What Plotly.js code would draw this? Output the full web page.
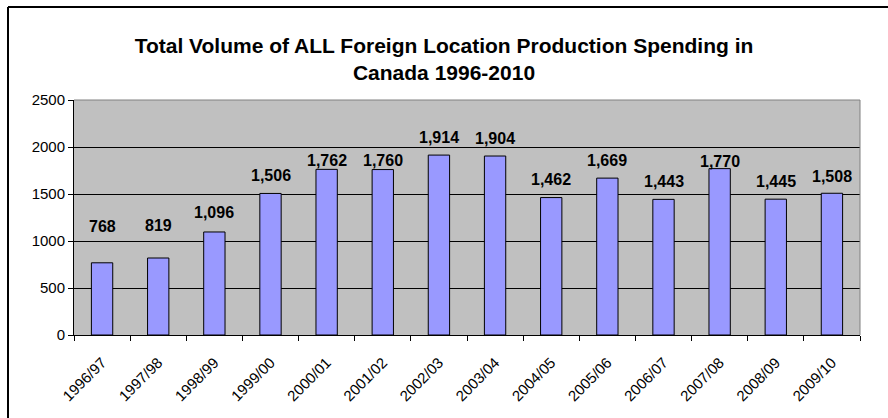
<!DOCTYPE html>
<html>
<head>
<meta charset="utf-8">
<script src="https://cdn.plot.ly/plotly-3.0.1.min.js"></script>
<style>
  html, body { margin: 0; padding: 0; background: #ffffff; }
  #chart { width: 888px; height: 418px; }
</style>
</head>
<body>
<div id="chart"></div>
<script>
// ---- Data ----
const seasons = ["1996/97", "1997/98", "1998/99", "1999/00", "2000/01", "2001/02", "2002/03",
                 "2003/04", "2004/05", "2005/06", "2006/07", "2007/08", "2008/09", "2009/10"];
const spending = [768, 819, 1096, 1506, 1762, 1760, 1914, 1904, 1462, 1669, 1443, 1770, 1445, 1508];
const yTicks = [0, 500, 1000, 1500, 2000, 2500];

// ---- Label placement (pixel lift above bar top, styling only) ----
const labelLift = [36, 33, 19, 18, 9, 9, 18, 18, 18, 18, 18, 7, 18, 17];

const FONT = "Arial, 'Liberation Sans', sans-serif";

const trace = {
  type: "bar",
  x: seasons,
  y: spending,
  marker: { color: "#9999ff", line: { color: "#000000", width: 1 } },
  hoverinfo: "x+y"
};

const annotations = seasons.map((s, i) => ({
  x: s,
  y: spending[i],
  xref: "x",
  yref: "y",
  text: spending[i].toLocaleString("en-US"),
  showarrow: false,
  yanchor: "middle",
  xanchor: "center",
  yshift: labelLift[i],
  font: { family: FONT, size: 16, color: "#000000", weight: "bold" }
}));

const L = 74, R = 28, T = 100, B = 83, W = 888, H = 418;
const pw = W - L - R, ph = H - T - B;
const px2x = (px) => (px - L) / pw;
const py2y = (py) => (H - B - py) / ph;

const shapes = [
  // plot area border (top & right, gray)
  { type: "line", xref: "paper", yref: "paper", x0: 0, x1: 1, y0: 1, y1: 1,
    line: { color: "#808080", width: 1 } },
  { type: "line", xref: "paper", yref: "paper", x0: 1, x1: 1, y0: 0, y1: 1,
    line: { color: "#808080", width: 1 } },
  // outer chart frame (left & top visible)
  { type: "line", xref: "paper", yref: "paper", x0: px2x(8), x1: px2x(8), y0: py2y(7), y1: py2y(430),
    line: { color: "#000000", width: 2 } },
  { type: "line", xref: "paper", yref: "paper", x0: px2x(8), x1: px2x(900), y0: py2y(7), y1: py2y(7),
    line: { color: "#000000", width: 2 } }
];

const layout = {
  width: W,
  height: H,
  margin: { l: L, r: R, t: T, b: B, pad: 0 },
  paper_bgcolor: "#ffffff",
  plot_bgcolor: "#c0c0c0",
  showlegend: false,
  bargap: 0.62,
  font: { family: FONT, size: 13, color: "#000000" },
  title: {
    text: "Total Volume of ALL Foreign Location Production Spending in<br>Canada 1996-2010",
    font: { family: FONT, size: 21, color: "#000000", weight: "bold" },
    x: 0.5,
    xanchor: "center",
    xref: "container",
    y: 1 - 53 / H,
    yanchor: "middle",
    yref: "container"
  },
  xaxis: {
    type: "category",
    tickangle: -45,
    tickson: "boundaries",
    ticks: "outside",
    ticklen: 5,
    tickcolor: "#000000",
    ticklabelstandoff: 12,
    showline: true,
    linecolor: "#000000",
    linewidth: 1,
    showgrid: false,
    zeroline: false,
    tickfont: { family: FONT, size: 15, color: "#000000" },
    fixedrange: true
  },
  yaxis: {
    range: [0, 2500],
    tickvals: yTicks,
    ticktext: yTicks.map(String),
    ticks: "outside",
    ticklen: 5,
    tickcolor: "#000000",
    showline: true,
    linecolor: "#000000",
    linewidth: 1,
    showgrid: true,
    gridcolor: "#000000",
    gridwidth: 1,
    zeroline: false,
    tickfont: { family: FONT, size: 15, color: "#000000" },
    fixedrange: true
  },
  annotations: annotations,
  shapes: shapes
};

Plotly.newPlot("chart", [trace], layout, { displayModeBar: false, staticPlot: true });
</script>
</body>
</html>
